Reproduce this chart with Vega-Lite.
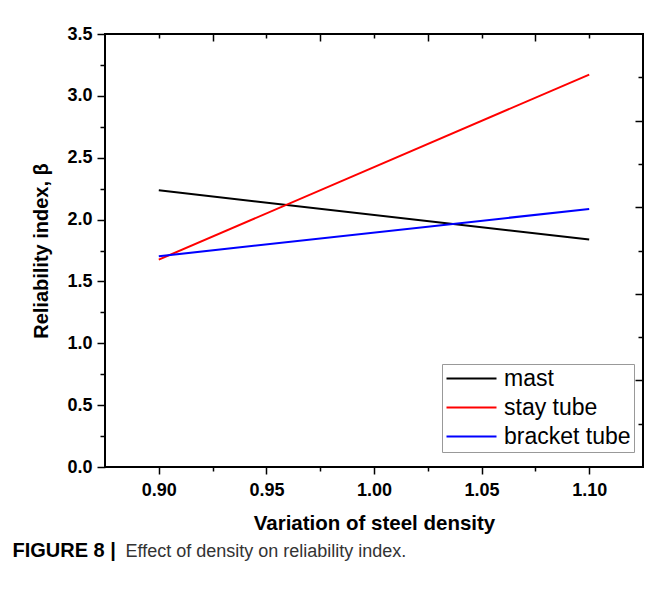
{
  "$schema": "https://vega.github.io/schema/vega-lite/v6.json",
  "autosize": {"type": "none"},
  "width": 538,
  "height": 433,
  "padding": {"left": 105, "top": 34, "right": 8, "bottom": 129},
  "background": "white",
  "config": {
    "font": "Liberation Sans",
    "view": {"stroke": "#000", "strokeWidth": 2},
    "axis": {"grid": false, "domain": false, "tickColor": "#000", "tickWidth": 1.5, "labelColor": "#000", "titleColor": "#000"}
  },
  "data": {"values": [
    {"density": 0.90, "beta": 2.237, "series": "mast"},
    {"density": 1.10, "beta": 1.838, "series": "mast"},
    {"density": 0.90, "beta": 1.676, "series": "stay tube"},
    {"density": 1.10, "beta": 3.172, "series": "stay tube"},
    {"density": 0.90, "beta": 1.703, "series": "bracket tube"},
    {"density": 1.10, "beta": 2.086, "series": "bracket tube"}
  ]},
  "resolve": {"scale": {"x": "independent", "y": "independent", "color": "independent"}},
  "layer": [
    {
      "mark": {"type": "line", "strokeWidth": 2},
      "encoding": {
        "x": {"field": "density", "type": "quantitative",
          "scale": {"domain": [0.875, 1.125], "nice": false, "zero": false},
          "axis": {"orient": "bottom", "values": [0.9, 0.95, 1.0, 1.05, 1.1], "format": ".2f", "tickSize": 7,
            "labelFontSize": 18, "labelFontWeight": "bold", "labelPadding": 7,
            "title": "Variation of steel density", "titleFontSize": 20.5, "titleFontWeight": "bold", "titlePadding": 14}},
        "y": {"field": "beta", "type": "quantitative",
          "scale": {"domain": [0, 3.5], "nice": false, "zero": false},
          "axis": {"orient": "left", "values": [0, 0.5, 1, 1.5, 2, 2.5, 3, 3.5], "format": ".1f", "tickSize": 8,
            "labelFontSize": 18, "labelFontWeight": "bold", "labelPadding": 5,
            "title": "Reliability index, β", "titleFontSize": 20, "titleFontWeight": "bold", "titlePadding": 15}},
        "color": {"field": "series", "type": "nominal",
          "scale": {"domain": ["mast", "stay tube", "bracket tube"], "range": ["#000000", "#ff0000", "#0000ff"]},
          "legend": {"title": null, "orient": "none", "legendX": 337, "legendY": 330,
            "symbolType": "M-1,0H4", "symbolSize": 400, "symbolStrokeWidth": 2,
            "labelFontSize": 23, "labelColor": "#000", "labelOffset": 36,
            "strokeColor": "#999", "padding": 3, "rowPadding": 5}}
      }
    },
    {
      "mark": {"type": "point", "opacity": 0},
      "encoding": {
        "x": {"field": "density", "type": "quantitative",
          "scale": {"domain": [0.875, 1.125], "nice": false, "zero": false},
          "axis": {"orient": "bottom", "values": [0.925, 0.975, 1.025, 1.075], "tickSize": 4, "labels": false, "title": null}},
        "y": {"field": "beta", "type": "quantitative",
          "scale": {"domain": [0, 3.5], "nice": false, "zero": false},
          "axis": {"orient": "left", "values": [0.25, 0.75, 1.25, 1.75, 2.25, 2.75, 3.25], "tickSize": 5, "labels": false, "title": null}}
      }
    },
    {
      "mark": {"type": "point", "opacity": 0},
      "encoding": {
        "x": {"field": "density", "type": "quantitative",
          "scale": {"domain": [0.875, 1.125], "nice": false, "zero": false},
          "axis": {"orient": "top", "values": [0.925, 0.975, 1.025, 1.075], "tickSize": -7, "labels": false, "title": null}},
        "y": {"field": "beta", "type": "quantitative",
          "scale": {"domain": [0, 5], "nice": false, "zero": false},
          "axis": {"orient": "right", "values": [1, 2, 3, 4], "tickSize": -8, "labels": false, "title": null}}
      }
    },
    {
      "mark": {"type": "point", "opacity": 0},
      "encoding": {
        "x": {"field": "density", "type": "quantitative",
          "scale": {"domain": [0.875, 1.125], "nice": false, "zero": false},
          "axis": {"orient": "top", "values": [0.9, 0.95, 1.0, 1.05, 1.1], "tickSize": -4, "labels": false, "title": null}},
        "y": {"field": "beta", "type": "quantitative",
          "scale": {"domain": [0, 5], "nice": false, "zero": false},
          "axis": {"orient": "right", "values": [0.5, 1.5, 2.5, 3.5, 4.5], "tickSize": -5, "labels": false, "title": null}}
      }
    },
    {
      "mark": {"type": "point", "opacity": 0},
      "encoding": {
        "x": {"field": "density", "type": "quantitative",
          "scale": {"domain": [0.875, 1.125], "nice": false, "zero": false},
          "axis": {"orient": "bottom", "ticks": false, "labels": false,
            "title": "Effect of density on reliability index.", "titleX": 20, "titleY": 89,
            "titleAlign": "left", "titleAnchor": null, "titleBaseline": "alphabetic",
            "titleFontSize": 18, "titleFontWeight": "normal", "titleColor": "#333"}},
        "y": {"field": "beta", "type": "quantitative",
          "scale": {"domain": [0, 3.5], "nice": false, "zero": false},
          "axis": {"orient": "left", "ticks": false, "labels": false,
            "title": "FIGURE 8 |", "titleX": -93, "titleY": 522, "titleAngle": 0,
            "titleAlign": "left", "titleAnchor": null, "titleBaseline": "alphabetic",
            "titleFontSize": 20, "titleFontWeight": "bold", "titleColor": "#000"}}
      }
    }
  ]
}
